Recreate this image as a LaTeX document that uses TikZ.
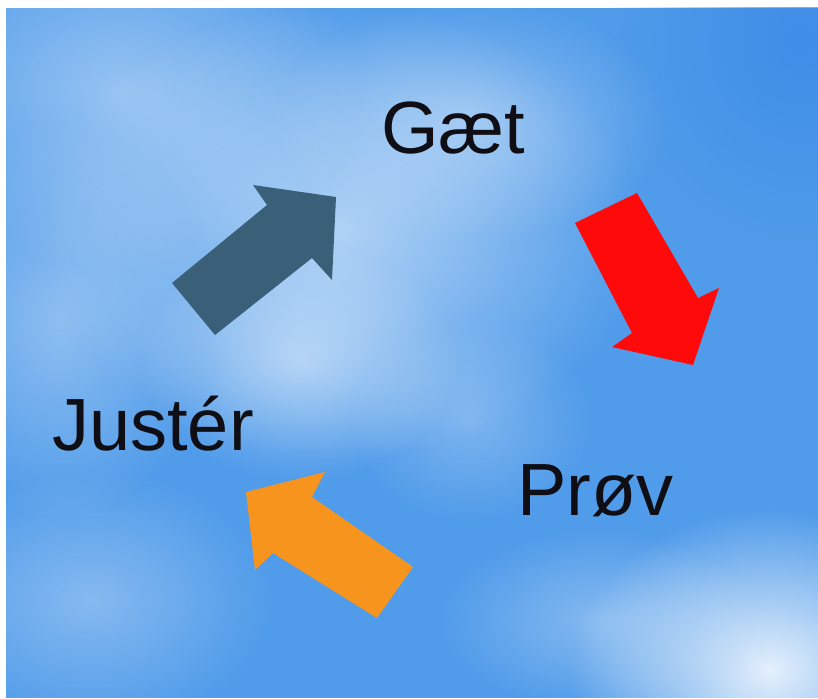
\documentclass[tikz,border=0pt]{standalone}
\usepackage{fontspec}
\setmainfont{Liberation Sans}
\usetikzlibrary{fadings}
\tikzfading[name=softc, inner color=transparent!0, outer color=transparent!100]
\definecolor{skybase}{HTML}{519CEA}
\definecolor{skydark}{HTML}{3A8AE6}
\definecolor{darkarrow}{HTML}{3A6079}
\definecolor{redarrow}{HTML}{FF0A0A}
\definecolor{orangearrow}{HTML}{F7941E}
\definecolor{textcol}{HTML}{0E0E14}
\tikzset{
  cloud/.style={white, path fading=softc},
  label/.style={font=\fontsize{74}{82}\selectfont, text=textcol, inner sep=0pt, anchor=base west},
}
\begin{document}
\begin{tikzpicture}[x=1pt,y=-1pt]
\useasboundingbox (0,0) rectangle (818,698);
\fill[white] (0,0) rectangle (818,698);
\begin{scope}
\clip (6,8) rectangle (818,698);
\fill[skybase] (6,8) rectangle (818,698);
\fill[skydark, path fading=softc, fill opacity=0.8] (800,40) ellipse (200 and 220);
% clouds
\fill[cloud, fill opacity=0.40] (120,90) ellipse (240 and 180);
\fill[cloud, fill opacity=0.55] (340,230) ellipse (300 and 230);
\fill[cloud, fill opacity=0.45] (300,360) ellipse (160 and 120);
\fill[cloud, fill opacity=0.35] (470,120) ellipse (200 and 120);
\fill[cloud, fill opacity=0.35] (60,320) ellipse (150 and 200);
\fill[cloud, fill opacity=0.30] (90,600) ellipse (180 and 130);
\fill[cloud, fill opacity=0.85] (770,670) ellipse (200 and 160);
\fill[cloud, fill opacity=0.30] (600,620) ellipse (160 and 90);
\fill[cloud, fill opacity=0.25] (470,420) ellipse (120 and 100);
\end{scope}
% arrows
\fill[darkarrow] (172,283) -- (267,205) -- (253,185) -- (336,197) -- (332,280) -- (312,258) -- (215,335) -- cycle;
\fill[redarrow] (575,223) -- (637,193) -- (698,298) -- (719,288) -- (693,365) -- (612,347) -- (632,333) -- cycle;
\fill[orangearrow] (413,567) -- (312,497) -- (325,472) -- (246,492) -- (255,570) -- (273,553) -- (377,618) -- cycle;
% labels
\node[label] (gaet) at (381,153) {Gæt};
\node[label] (juster) at (52,450) {Justér};
\node[label] (proev) at (517,515) {Prøv};
\end{tikzpicture}
\end{document}
